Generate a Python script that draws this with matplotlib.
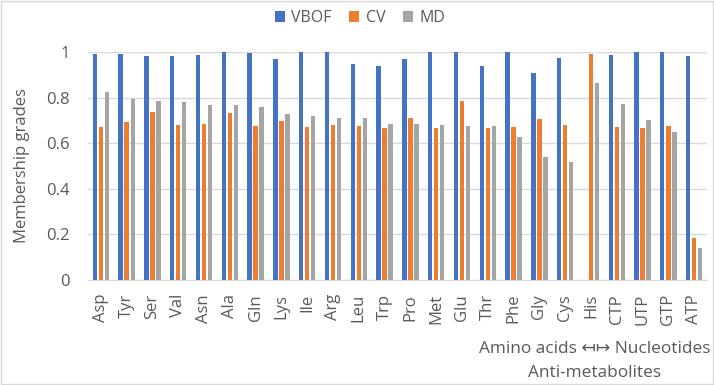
import matplotlib.pyplot as plt
import numpy as np
from matplotlib.patches import Rectangle

# datos
categorias = ["Asp", "Tyr", "Ser", "Val", "Asn", "Ala", "Gln", "Lys", "Ile", "Arg", "Leu", "Trp",
              "Pro", "Met", "Glu", "Thr", "Phe", "Gly", "Cys", "His", "CTP", "UTP", "GTP", "ATP"]
vbof = [0.991, 0.990, 0.981, 0.982, 0.985, 1.0, 0.994, 0.968, 1.0, 1.0, 0.947, 0.937,
        0.968, 0.999, 1.0, 0.937, 1.0, 0.909, 0.974, 0.0, 0.988, 1.0, 1.0, 0.981]
cv = [0.673, 0.693, 0.735, 0.680, 0.683, 0.732, 0.675, 0.697, 0.671, 0.680, 0.674, 0.667,
      0.711, 0.668, 0.787, 0.667, 0.670, 0.706, 0.680, 0.991, 0.673, 0.667, 0.674, 0.184]
md = [0.825, 0.794, 0.787, 0.782, 0.768, 0.768, 0.757, 0.728, 0.718, 0.711, 0.711, 0.684,
      0.684, 0.680, 0.675, 0.674, 0.627, 0.541, 0.518, 0.862, 0.773, 0.700, 0.649, 0.139]
series = ["VBOF", "CV", "MD"]
colores = ["#4472C4", "#ED7D31", "#A5A5A5"]

gris = "#595959"
plt.rcParams['font.family'] = ['Open Sans', 'DejaVu Sans']

fig = plt.figure(figsize=(7.14, 3.85), dpi=100)
ax = fig.add_axes([88 / 714, (385 - 280) / 385, (707 - 88) / 714, (280 - 52) / 385])

x = np.arange(len(categorias))
ancho = 0.17
paso = 0.233
for i, (nombre, vals, c) in enumerate(zip(series, [vbof, cv, md], colores)):
    ax.bar(x + (i - 1) * paso, vals, ancho, color=c, label=nombre, zorder=3)

ax.set_xlim(-0.5, len(categorias) - 0.5)
ax.set_ylim(0, 1)
ax.set_yticks([0, 0.2, 0.4, 0.6, 0.8, 1.0])
ax.set_yticklabels(["0", "0.2", "0.4", "0.6", "0.8", "1"])
ax.grid(axis="y", color="#D9D9D9", linewidth=1, zorder=0)
for s in ["top", "right", "left"]:
    ax.spines[s].set_visible(False)
ax.spines["bottom"].set_color("#D9D9D9")
ax.set_xticks(x)
ax.set_xticklabels(categorias, rotation=90)
ax.tick_params(axis="both", length=0, colors=gris, labelsize=12)
ax.tick_params(axis="x", pad=10)
ax.tick_params(axis="y", pad=13)
ax.set_ylabel("Membership grades", color=gris, fontsize=12, labelpad=12)

# título del eje x, dos líneas centradas
fig.text(595 / 714, 1 - 353 / 385, "Amino acids \u21a4\u21a6 Nucleotides",
         ha="center", va="baseline", color=gris, fontsize=12.4)
fig.text(595 / 714, 1 - 377 / 385, "Anti-metabolites",
         ha="center", va="baseline", color=gris, fontsize=12.4)

fig.legend(loc="center", bbox_to_anchor=(360 / 714, 1 - 18 / 385), ncol=3, frameon=False,
           fontsize=11.5, handlelength=0.62, handleheight=0.62, handletextpad=0.4,
           columnspacing=1.1, labelcolor=gris)

fig.patches.append(Rectangle((0.001, 0.002), 0.997, 0.996, transform=fig.transFigure,
                             fill=False, edgecolor="#D9D9D9", linewidth=1))

fig.savefig("out.png", dpi=100)
